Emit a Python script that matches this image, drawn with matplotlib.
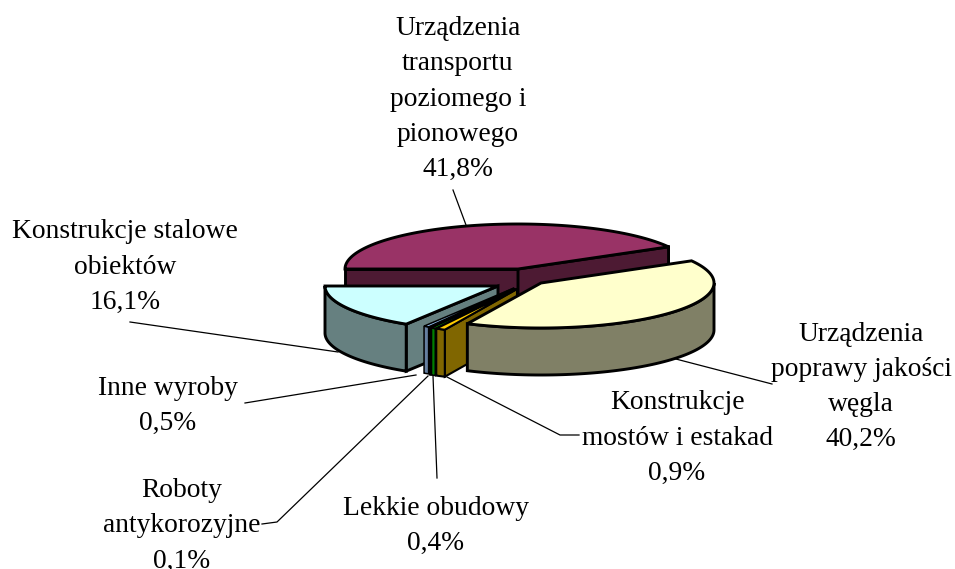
import numpy as np
import matplotlib
matplotlib.use('Agg')
import matplotlib.pyplot as plt
from matplotlib.patches import Polygon

plt.rcParams['font.family'] = ['Liberation Serif', 'DejaVu Serif']

# DATA (clockwise from 9 o'clock)
labels = ['Urządzenia\ntransportu\npoziomego i\npionowego\n41,8%',
          'Urządzenia\npoprawy jakości\nwęgla\n40,2%',
          'Konstrukcje\nmostów i estakad\n0,9%',
          'Lekkie obudowy\n0,4%',
          'Roboty\nantykorozyjne\n0,1%',
          'Inne wyroby\n0,5%',
          'Konstrukcje stalowe\nobiektów\n16,1%']
values = [41.8, 40.2, 0.9, 0.4, 0.1, 0.5, 16.1]

top_colors = ['#993366', '#FFFFCC', '#FFCC00', '#00CC00', '#000000', '#99CCFF', '#CCFFFF']
side_colors = ['#4D1A33', '#808066', '#806600', '#008000', '#000000', '#667FA0', '#668080']

# LAYOUT (pixels)
RX = 173
RY = 45
DEPTH = 47
START = 180
apex_x = [518, 541, 517, 516, 515, 514, 498]
apex_y = [269, 283, 289, 289, 289, 288, 286]
rx_scale = [1, 1, 0.98, 0.98, 0.98, 0.98, 1]
edge_width = [2.1, 2.1, 1.5, 1.1, 1.1, 1.1, 2.1]
draw_order = [0, 6, 5, 4, 3, 2, 1]

label_x = [458, 861, 677, 436, 182, 168, 125]
label_y = [99, 387, 438, 526, 526, 406, 267]
leaders = [[(466, 225), (453, 190)],
           [(672, 358), (772, 384)],
           [(447, 377), (560, 435), (579, 435)],
           [(433, 376), (437, 478)],
           [(428, 376), (277, 522), (262, 524)],
           [(416, 375), (245, 403)],
           [(338, 352), (130, 322)]]

fig = plt.figure(figsize=(9.55, 5.69), dpi=100)
ax = fig.add_axes([0, 0, 1, 1])
ax.set_xlim(0, 955)
ax.set_ylim(569, 0)
ax.axis('off')

# slice angles from the values
angles = START - np.cumsum([0] + values) * 3.6


def rim(i, a1, a2):
    t = np.radians(np.linspace(a1, a2, 100))
    return np.column_stack([apex_x[i] + RX * rx_scale[i] * np.cos(t),
                            apex_y[i] - RY * np.sin(t)])


def add_poly(pts, color, z, lw):
    ax.add_patch(Polygon(pts, closed=True, facecolor=color, edgecolor='black',
                         linewidth=lw, joinstyle='miter', zorder=z))


def draw_slice(i, z):
    cx, cy = apex_x[i], apex_y[i]
    a1, a2 = angles[i], angles[i + 1]
    lw = edge_width[i]
    # radial faces, only the ones turned to the viewer
    for a, visible in [(a1, np.cos(np.radians(a1)) < 0), (a2, np.cos(np.radians(a2)) > 0)]:
        if visible:
            p = rim(i, a, a)[0]
            add_poly([(cx, cy), p, (p[0], p[1] + DEPTH), (cx, cy + DEPTH)], side_colors[i], z, lw)
    # outer wall, front half only
    lo, hi = max(a2, -180), min(a1, 0)
    if hi > lo:
        arc = rim(i, lo, hi)
        add_poly(np.vstack([arc, (arc + [0, DEPTH])[::-1]]), side_colors[i], z + 0.1, lw)
    # top
    add_poly(np.vstack([[(cx, cy)], rim(i, a1, a2)]), top_colors[i], z + 0.2, lw)


for n, i in enumerate(draw_order):
    draw_slice(i, 2 + n)

for pts in leaders:
    xs, ys = zip(*pts)
    ax.plot(xs, ys, color='black', linewidth=0.9, zorder=1)

for i, txt in enumerate(labels):
    ax.text(label_x[i], label_y[i], txt, ha='center', va='center', fontsize=19.8,
            linespacing=1.54, color='black', zorder=20)

fig.savefig('out.png', dpi=100)
